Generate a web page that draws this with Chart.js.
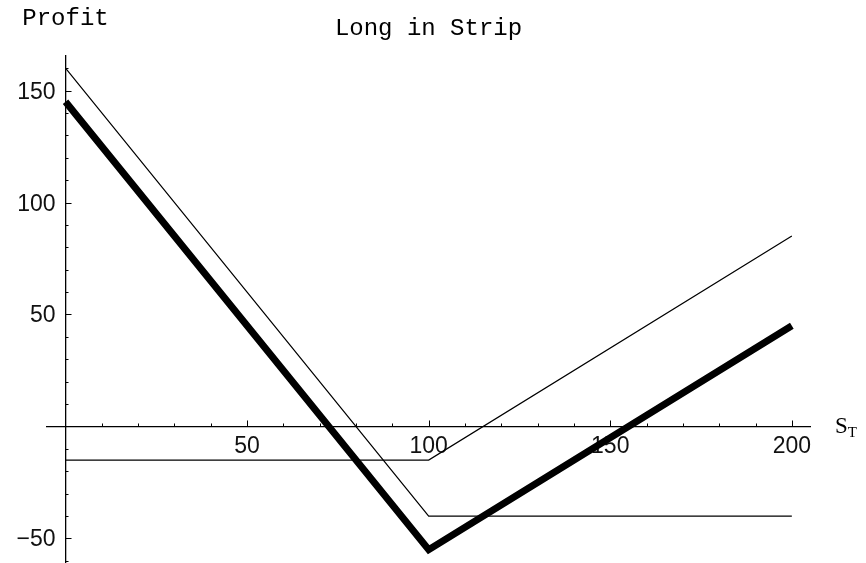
<!DOCTYPE html>
<html>
<head>
<meta charset="utf-8">
<style>
  html, body { margin: 0; padding: 0; background: #fff; }
  #wrap { width: 866px; height: 563px; }
</style>
<script src="https://cdn.jsdelivr.net/npm/chart.js@4.4.1/dist/chart.umd.min.js"></script>
</head>
<body>
<div id="wrap"><canvas id="stripChart" width="866" height="563"></canvas></div>
<script>
// Strip: one call plus two puts, strike 100
const stockPrices = [0, 100, 200];
const callProfit = [-15, -15, 85];
const putsProfit = [160, -40, -40];
const stripProfit = [145, -55, 45];

const xTickLabels = [50, 100, 150, 200];
const yTickLabels = [-50, 50, 100, 150];

const toPoints = ys => stockPrices.map((x, i) => ({ x, y: ys[i] }));
const fmt = v => String(v).replace("-", "\u2212");

// axes crossing at the origin: tick marks point into the plot, labels sit outside
const crossAxes = {
  id: "crossAxes",
  beforeDatasetsDraw(chart) {
    const { ctx, scales: { x, y } } = chart;
    const x0 = x.getPixelForValue(0);
    const y0 = y.getPixelForValue(0);
    ctx.save();
    ctx.strokeStyle = "#000";
    ctx.lineWidth = 1;
    ctx.beginPath();
    for (let v = 10; v <= 200; v += 10) {
      const px = Math.round(x.getPixelForValue(v)) + 0.5;
      const len = v % 50 === 0 ? 6 : 3;
      ctx.moveTo(px, y0);
      ctx.lineTo(px, y0 - len);
    }
    for (let v = -60; v <= 160; v += 10) {
      if (v === 0) continue;
      const py = Math.round(y.getPixelForValue(v)) + 0.5;
      const len = v % 50 === 0 ? 6 : 3;
      ctx.moveTo(x0, py);
      ctx.lineTo(x0 + len, py);
    }
    ctx.stroke();

    ctx.fillStyle = "#111";
    ctx.font = "23px 'Liberation Sans'";
    ctx.textBaseline = "alphabetic";
    ctx.textAlign = "center";
    xTickLabels.forEach(v => ctx.fillText(fmt(v), x.getPixelForValue(v), y0 + 27));
    ctx.textAlign = "right";
    yTickLabels.forEach(v => ctx.fillText(fmt(v), x0 - 10, y.getPixelForValue(v) + 8));
    ctx.restore();
  },
  afterDraw(chart) {
    const { ctx, scales: { x, y } } = chart;
    const x0 = x.getPixelForValue(0);
    const y0 = y.getPixelForValue(0);
    ctx.save();
    ctx.fillStyle = "#000";
    ctx.font = "24px 'Liberation Mono'";
    ctx.textAlign = "center";
    ctx.textBaseline = "alphabetic";
    ctx.fillText("Profit", x0, 25);
    ctx.textAlign = "left";
    ctx.font = "23px 'Liberation Serif'";
    const sx = chart.chartArea.right + 25;
    ctx.fillText("S", sx, y0 + 7);
    const sw = ctx.measureText("S").width;
    ctx.font = "15px 'Liberation Serif'";
    ctx.fillText("T", sx + sw, y0 + 11);
    ctx.restore();
  }
};

const noSize = s => { if (s.isHorizontal()) s.height = 0; else s.width = 0; };

new Chart(document.getElementById("stripChart"), {
  type: "line",
  data: {
    datasets: [
      { data: toPoints(putsProfit), borderColor: "#000", borderWidth: 1.2 },
      { data: toPoints(callProfit), borderColor: "#000", borderWidth: 1.2 },
      { data: toPoints(stripProfit), borderColor: "#000", borderWidth: 7, borderJoinStyle: "miter" }
    ]
  },
  options: {
    responsive: false,
    animation: false,
    devicePixelRatio: 1,
    elements: { point: { radius: 0 }, line: { tension: 0, fill: false } },
    layout: { padding: { left: 47, right: 56, top: 0, bottom: 1 } },
    plugins: {
      legend: { display: false },
      tooltip: { enabled: false },
      title: {
        display: true,
        text: "Long in Strip",
        fullSize: false,
        color: "#000",
        font: { family: "'Liberation Mono'", size: 24, weight: "normal", lineHeight: 1.2 },
        padding: { top: 14, bottom: 13 }
      }
    },
    scales: {
      x: {
        type: "linear",
        min: -5.1,
        max: 205,
        position: { y: 0 },
        grid: { display: false, drawTicks: false },
        border: { display: true, color: "#000", width: 1.3 },
        ticks: { display: false },
        afterFit: noSize
      },
      y: {
        type: "linear",
        min: -60.5,
        max: 165.5,
        position: { x: 0 },
        grid: { display: false, drawTicks: false },
        border: { display: true, color: "#000", width: 1.3 },
        ticks: { display: false },
        afterFit: noSize
      }
    }
  },
  plugins: [crossAxes]
});
</script>
</body>
</html>
